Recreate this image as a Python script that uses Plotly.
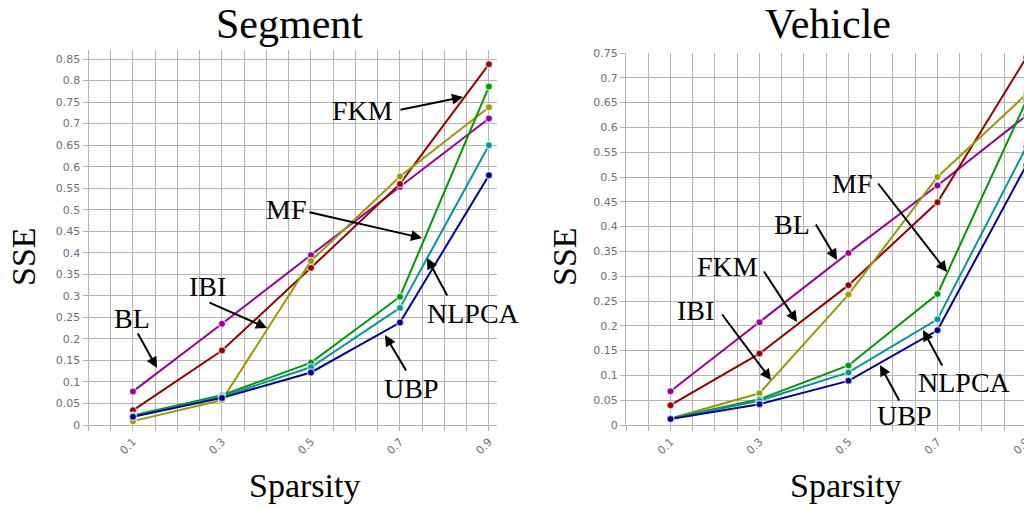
import plotly.graph_objects as go

# ---------------- data ----------------
sparsity = [0.1, 0.3, 0.5, 0.7, 0.9]
tick_labels = ["0.1", "0.3", "0.5", "0.7", "0.9"]
methods = ["BL", "FKM", "IBI", "MF", "NLPCA", "UBP"]
colors = ["#990099", "#990000", "#999900", "#009900", "#009999", "#000099"]

seg_BL = [0.078, 0.235, 0.395, 0.553, 0.712]
seg_FKM = [0.034, 0.173, 0.365, 0.560, 0.838]
seg_IBI = [0.009, 0.058, 0.381, 0.577, 0.738]
seg_MF = [0.022, 0.069, 0.145, 0.298, 0.786]
seg_NLPCA = [0.020, 0.066, 0.134, 0.272, 0.650]
seg_UBP = [0.019, 0.063, 0.122, 0.238, 0.580]

veh_BL = [0.068, 0.207, 0.347, 0.483, 0.624]
veh_FKM = [0.040, 0.144, 0.282, 0.449, 0.741]
veh_IBI = [0.013, 0.064, 0.263, 0.500, 0.667]
veh_MF = [0.013, 0.052, 0.120, 0.264, 0.654]
veh_NLPCA = [0.013, 0.049, 0.106, 0.213, 0.561]
veh_UBP = [0.012, 0.042, 0.089, 0.191, 0.524]

segment = [seg_BL, seg_FKM, seg_IBI, seg_MF, seg_NLPCA, seg_UBP]
vehicle = [veh_BL, veh_FKM, veh_IBI, veh_MF, veh_NLPCA, veh_UBP]

W, H = 1044, 508
VIEW_W = 1024
SERIF = "Liberation Serif, Times New Roman, serif"

fig = go.Figure()
for data, xa, ya in [(segment, "x", "y"), (vehicle, "x2", "y2")]:
    for name, col, vals in zip(methods, colors, data):
        fig.add_trace(go.Scatter(
            x=sparsity, y=vals, mode="lines+markers", name=name,
            xaxis=xa, yaxis=ya, showlegend=False,
            line=dict(color=col, width=2),
            marker=dict(color=col, size=7,
                        line=dict(color="rgba(255,255,255,0.6)", width=1.5)),
        ))

def px(x):
    return x / W

def py(y):
    return 1 - y / H

grid_col = "#b4b4b4"
tickfont = dict(family="DejaVu Sans", size=11, color="#707070")

def xaxis(domain, anchor):
    return dict(domain=domain, anchor=anchor, range=[0, 0.917], automargin=False,
                tickvals=sparsity, ticktext=tick_labels, tickangle=-45,
                tickfont=tickfont, showgrid=True, gridcolor=grid_col, gridwidth=1,
                ticks="outside", ticklen=5, tickcolor=grid_col,
                minor=dict(dtick=0.05, tick0=0, showgrid=True, gridcolor=grid_col,
                           ticks="outside", ticklen=5, tickcolor=grid_col),
                showline=True, linecolor=grid_col, linewidth=1, zeroline=False,
                fixedrange=True)

def yaxis(domain, anchor, top):
    return dict(domain=domain, anchor=anchor, range=[0, top], dtick=0.05, tick0=0,
                automargin=False,
                tickfont=tickfont, showgrid=True, gridcolor=grid_col, gridwidth=1,
                ticks="outside", ticklen=5, tickcolor=grid_col,
                showline=True, linecolor=grid_col, linewidth=1, zeroline=False,
                fixedrange=True)

fig.update_layout(
    width=W, height=H, autosize=False,
    margin=dict(l=0, r=0, t=0, b=0, pad=0, autoexpand=False),
    paper_bgcolor="white", plot_bgcolor="white",
    xaxis=xaxis([px(88.5), px(496.5)], "y"),
    yaxis=yaxis([py(425), py(50)], "x", 0.871),
    xaxis2=xaxis([px(626), px(1034)], "y2"),
    yaxis2=yaxis([py(425), py(53)], "x2", 0.75),
)

ann = []

def text(t, x, y, size=28, angle=0, yanchor="middle"):
    ann.append(dict(text=t, x=px(x), y=py(y), xref="paper", yref="paper",
                    showarrow=False, xanchor="center", yanchor=yanchor, borderpad=0,
                    textangle=angle, font=dict(family=SERIF, size=size, color="black")))

def arrow(tx, ty, hx, hy):
    ann.append(dict(text="", x=px(hx), y=py(hy), xref="paper", yref="paper",
                    ax=tx - hx, ay=ty - hy, showarrow=True, arrowhead=2,
                    arrowsize=1.1, arrowwidth=2, arrowcolor="black", standoff=0,
                    startstandoff=0))

# titles and axis titles
text("Segment", 289, 0, size=42, yanchor="top")
text("Vehicle", 828, 0, size=42, yanchor="top")
text("SSE", 23, 257, size=34, angle=-90)
text("SSE", 564, 257, size=34, angle=-90)
text("Sparsity", 304, 485, size=34)
text("Sparsity", 845, 485, size=34)

# Segment labels
text("FKM", 362, 110); arrow(399, 110, 463, 97)
text("MF", 286, 210); arrow(308, 212, 422, 238)
text("IBI", 207, 286); arrow(208, 302, 267, 328)
text("BL", 132, 318); arrow(137, 332, 157, 368)
text("NLPCA", 473, 313); arrow(448, 297, 427, 258)
text("UBP", 411, 388); arrow(407, 372, 385, 335)

# Vehicle labels
text("MF", 852, 183); arrow(877, 182, 947, 272)
text("BL", 792, 224); arrow(815, 223, 837, 260)
text("FKM", 727, 266); arrow(763, 270, 797, 322)
text("IBI", 695, 310); arrow(721, 313, 771, 380)
text("NLPCA", 964, 382); arrow(943, 367, 923, 330)
text("UBP", 904, 415); arrow(900, 402, 880, 365)

fig.update_layout(annotations=ann)

# the reference crops the right panel at the window edge: clip the page to the window
clip_js = (
    "document.documentElement.style.margin='0';"
    "document.body.style.margin='0';"
    "document.documentElement.style.overflow='hidden';"
    "document.body.style.overflow='hidden';"
    "var p=document.getElementById('{plot_id}').parentElement;"
    "p.style.width='%dpx';p.style.height='%dpx';p.style.overflow='hidden';" % (VIEW_W, H)
)

fig.write_html("out.html", config={"displayModeBar": False}, post_script=clip_js)
